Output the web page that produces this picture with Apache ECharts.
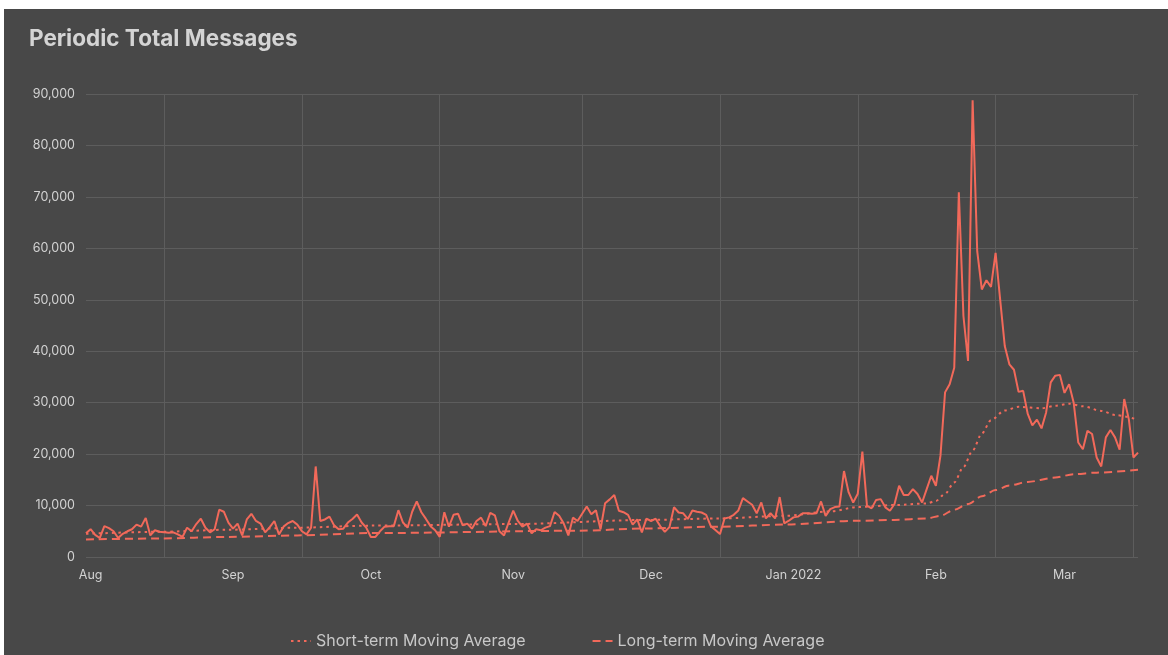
<!DOCTYPE html>
<html>
<head>
<meta charset="utf-8">
<script src="https://cdn.jsdelivr.net/npm/echarts@6/dist/echarts.min.js"></script>
<style>
  html, body { margin: 0; padding: 0; background: #ffffff; width: 1168px; height: 655px; overflow: hidden; }
  #chart { position: absolute; left: 4px; top: 9px; width: 1164px; height: 646px; }
</style>
</head>
<body>
<div id="chart"></div>
<script>
// ---- Data ----
const startDate = '2021-07-31';
const dayCount = 230;
const monthNames = ['Jan','Feb','Mar','Apr','May','Jun','Jul','Aug','Sep','Oct','Nov','Dec'];
const gridDates = ['2021-08-17','2021-09-16','2021-10-16','2021-11-16','2021-12-16','2022-01-15','2022-02-14','2022-03-16'];

const totalMessages = [
  4600, 5400, 4300, 3700, 6000, 5600, 5000, 3700, 4500, 5000,
  5400, 6300, 5900, 7600, 4200, 5200, 4900, 4800, 4700, 4800,
  4400, 3900, 5700, 5000, 6400, 7450, 5700, 4800, 5400, 9200,
  8800, 6700, 5500, 6500, 4200, 7300, 8400, 7000, 6500, 4800,
  5800, 7000, 4400, 5900, 6600, 7000, 6300, 5000, 4400, 5700,
  17600, 7000, 7300, 7850, 6150, 5400, 5500, 6700, 7400, 8250,
  6700, 5700, 3900, 3900, 5000, 5900, 6000, 6000, 9100, 6700,
  5700, 8800, 10800, 8700, 7400, 6000, 5200, 3900, 8700, 5900,
  8200, 8400, 6150, 6500, 5500, 7000, 7650, 6000, 8600, 8100,
  5000, 4200, 6700, 9000, 7000, 5900, 6500, 4600, 5400, 5200,
  5700, 6000, 8750, 8000, 6500, 4200, 7650, 7000, 8400, 9800,
  8300, 9100, 5400, 10450, 11200, 12050, 9000, 8700, 8200, 6300,
  7300, 4800, 7450, 7000, 7450, 6000, 4900, 5800, 9700, 8650,
  8500, 7400, 9050, 8800, 8650, 8200, 6000, 5250, 4450, 7500,
  7700, 8200, 9050, 11450, 10800, 10150, 8500, 10600, 7500, 8500,
  7500, 11650, 6550, 7050, 7700, 7850, 8500, 8500, 8400, 8500,
  10800, 8000, 9300, 9700, 9800, 16700, 12600, 10600, 12300, 20500,
  10000, 9450, 11100, 11250, 9650, 9000, 10300, 13850, 12050, 12050,
  13200, 12250, 10600, 13200, 15800, 13850, 19700, 32000, 33600, 36800,
  70900, 46850, 38100, 88800, 59450, 52000, 53800, 52500, 59100, 50000,
  41000, 37450, 36400, 32100, 32300, 27800, 25600, 26700, 25000, 28100,
  33950, 35250, 35400, 31900, 33600, 30000, 22250, 20950, 24550, 23900,
  19350, 17600, 23250, 24700, 23250, 20850, 30700, 26800, 19350, 20300
];

const shortTermDates = ['2021-07-31','2021-08-16','2021-08-31','2021-09-15','2021-10-01','2021-11-01','2021-11-30','2021-12-16','2021-12-30','2022-01-09','2022-01-15','2022-01-23','2022-01-30','2022-02-01','2022-02-03','2022-02-05','2022-02-07','2022-02-09','2022-02-11','2022-02-13','2022-02-16','2022-02-19','2022-02-24','2022-02-27','2022-03-02','2022-03-05','2022-03-09','2022-03-12','2022-03-17'];
const shortTermValues = [4500, 4900, 5300, 5700, 6100, 6400, 7200, 7500, 8000, 8850, 9700, 10100, 10400, 10900, 12300, 14500, 17500, 20700, 24000, 26600, 28500, 29200, 28900, 29400, 29800, 29300, 28400, 27600, 26700];

const longTermDates = ['2021-07-31','2021-08-16','2021-08-31','2021-09-15','2021-10-01','2021-11-15','2021-11-30','2021-12-16','2021-12-30','2022-01-15','2022-01-23','2022-01-30','2022-02-02','2022-02-05','2022-02-08','2022-02-11','2022-02-14','2022-02-17','2022-02-21','2022-02-27','2022-03-03','2022-03-08','2022-03-17'];
const longTermValues = [3400, 3600, 3900, 4200, 4650, 5100, 5550, 5900, 6300, 7050, 7200, 7500, 8000, 9200, 10300, 11800, 13000, 13900, 14600, 15450, 16100, 16400, 16950];

// ---- Build categories ----
function pad(n) { return n < 10 ? '0' + n : '' + n; }
const dates = [];
(function () {
  const p = startDate.split('-').map(Number);
  const d = new Date(Date.UTC(p[0], p[1] - 1, p[2]));
  for (let i = 0; i < dayCount; i++) {
    dates.push(d.getUTCFullYear() + '-' + pad(d.getUTCMonth() + 1) + '-' + pad(d.getUTCDate()));
    d.setUTCDate(d.getUTCDate() + 1);
  }
})();

const lineColor = '#f2695a';
const textColor = '#d2d2d2';
const gridColor = '#5d5d5d';
const fontFamily = 'Inter, "Open Sans", sans-serif';

const chart = echarts.init(document.getElementById('chart'));
chart.setOption({
  backgroundColor: '#484848',
  animation: false,
  title: {
    text: 'Periodic Total Messages',
    left: 20,
    top: 14,
    textStyle: { color: '#d4d4d4', fontSize: 22.5, fontWeight: 'bold', fontFamily: fontFamily }
  },
  legend: {
    left: 281,
    top: 619,
    itemWidth: 20,
    itemHeight: 10,
    itemGap: 66,
    itemStyle: { opacity: 0 },
    textStyle: { color: '#c8c8c8', fontSize: 16, fontFamily: fontFamily },
    data: ['Short-term Moving Average', 'Long-term Moving Average']
  },
  grid: { left: 82, right: 30, top: 85, bottom: 98, containLabel: false },
  xAxis: {
    type: 'category',
    data: dates,
    boundaryGap: false,
    axisLine: { show: false },
    axisTick: { show: false },
    axisLabel: {
      interval: function (idx, val) { return val.slice(8) === '01'; },
      formatter: function (val) {
        const m = Number(val.slice(5, 7));
        return m === 1 ? 'Jan ' + val.slice(0, 4) : monthNames[m - 1];
      },
      color: textColor,
      fontSize: 12.5,
      fontFamily: fontFamily,
      margin: 12
    },
    splitLine: {
      show: true,
      interval: function (idx, val) { return gridDates.indexOf(val) >= 0; },
      lineStyle: { color: gridColor, width: 1 }
    }
  },
  yAxis: {
    type: 'value',
    min: 0,
    max: 90000,
    interval: 10000,
    axisLine: { show: false },
    axisTick: { show: false },
    axisLabel: {
      color: textColor,
      fontSize: 12.5,
      fontFamily: fontFamily,
      margin: 11,
      formatter: function (v) { return v.toLocaleString('en-US'); }
    },
    splitLine: { lineStyle: { color: gridColor, width: 1 } }
  },
  series: [
    {
      name: 'Total Messages',
      type: 'line',
      data: totalMessages,
      symbol: 'none',
      lineStyle: { color: lineColor, width: 2 },
      itemStyle: { color: lineColor },
      z: 3
    },
    {
      name: 'Short-term Moving Average',
      type: 'line',
      data: shortTermDates.map(function (d, i) { return [d, shortTermValues[i]]; }),
      symbol: 'none',
      smooth: 0.3,
      smoothMonotone: 'x',
      lineStyle: { color: lineColor, width: 2, type: [2.5, 4] },
      itemStyle: { color: lineColor },
      z: 2
    },
    {
      name: 'Long-term Moving Average',
      type: 'line',
      data: longTermDates.map(function (d, i) { return [d, longTermValues[i]]; }),
      symbol: 'none',
      smooth: 0.3,
      smoothMonotone: 'x',
      lineStyle: { color: lineColor, width: 2, type: [8, 5] },
      itemStyle: { color: lineColor },
      z: 2
    }
  ]
});
</script>
</body>
</html>
